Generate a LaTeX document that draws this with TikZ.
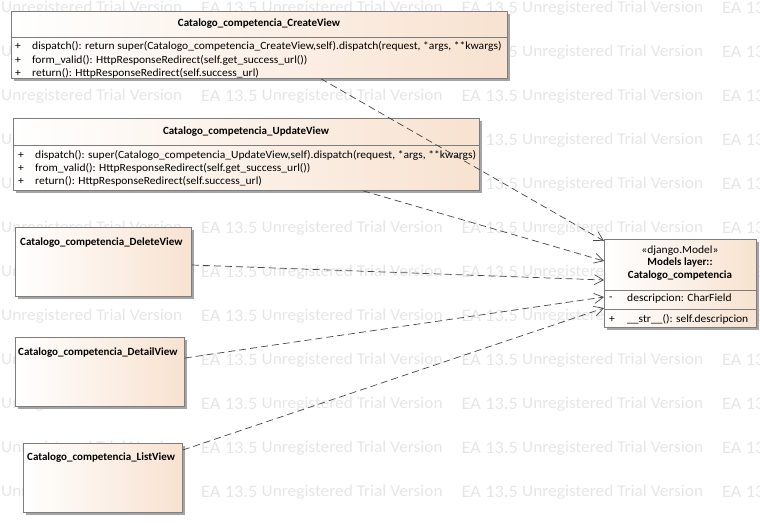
\documentclass[tikz,border=0pt]{standalone}
\usepackage{fontspec}
\setmainfont{Carlito}
\newfontfamily\regf[FakeStretch=1.05]{Carlito}
\usetikzlibrary{arrows.meta,shadows}
\definecolor{peach}{RGB}{248,226,208}
\definecolor{bordergray}{RGB}{125,125,125}
\definecolor{shadowgray}{RGB}{165,165,165}
\definecolor{wmgray}{RGB}{230,230,230}
\definecolor{linegray}{RGB}{70,70,70}
\begin{document}
\begin{tikzpicture}[x=1pt,y=-1pt,
  classbox/.style={draw=bordergray, line width=0.8pt, left color=white, right color=peach,
    anchor=north west, inner sep=0pt,
    drop shadow={shadow xshift=3pt, shadow yshift=-3pt, opacity=1, fill=shadowgray}},
  sepline/.style={draw=bordergray, line width=0.6pt},
  wm/.style={text=wmgray, anchor=west, inner sep=0pt, font=\regf\fontsize{17.5}{18}\selectfont},
  ttl/.style={inner sep=0pt, font=\fontsize{11}{12}\selectfont\bfseries},
  op/.style={inner sep=0pt, anchor=west, font=\regf\fontsize{11}{12}\selectfont},
  dep/.style={draw=linegray, line width=0.7pt, dash pattern=on 7pt off 4pt,
    -{Straight Barb[length=9pt,width=10pt,line width=0.7pt]}}]
\useasboundingbox (0,0) rectangle (760,522);
% watermark
\foreach \r in {0,...,11}{
  \foreach \k in {0,1,2}{
    \node[wm, font=\regf\fontsize{16.5}{18}\selectfont] (wmU\r-\k) at ({1+260.5*\k},{8+44*\r}) {Unregistered Trial Version};
    \node[wm] (wmE\r-\k) at ({201+260.5*\k},{8+44*\r}) {EA 13.5};
  }
}
% CreateView
\node[classbox, minimum width=496pt, minimum height=67pt] (create) at (11,11) {};
\draw[sepline] ([yshift=-26pt]create.north west) -- ([yshift=-26pt]create.north east);
\node[ttl] (createT) at (259,24) {Catalogo\_competencia\_CreateView};
\node[op] (c1p) at (15,46) {+};
\node[op] (c1) at (32,46) {dispatch(): return super(Catalogo\_competencia\_CreateView,self).dispatch(request, *args, **kwargs)};
\node[op] (c2p) at (15,60) {+};
\node[op] (c2) at (32,60) {form\_valid(): HttpResponseRedirect(self.get\_success\_url())};
\node[op] (c3p) at (15,73) {+};
\node[op] (c3) at (32,73) {return(): HttpResponseRedirect(self.success\_url)};
% UpdateView
\node[classbox, minimum width=466pt, minimum height=72pt] (update) at (13,118) {};
\draw[sepline] ([yshift=-27pt]update.north west) -- ([yshift=-27pt]update.north east);
\node[ttl] (updateT) at (246,132) {Catalogo\_competencia\_UpdateView};
\node[op] (u1p) at (18,155) {+};
\node[op] (u1) at (35,155) {dispatch(): super(Catalogo\_competencia\_UpdateView,self).dispatch(request, *args, **kwargs)};
\node[op] (u2p) at (18,168) {+};
\node[op] (u2) at (35,168) {from\_valid(): HttpResponseRedirect(self.get\_success\_url())};
\node[op] (u3p) at (18,181) {+};
\node[op] (u3) at (35,181) {return(): HttpResponseRedirect(self.success\_url)};
% DeleteView
\node[classbox, minimum width=176pt, minimum height=69pt] (delete) at (15,227) {};
\node[ttl, anchor=west] (deleteT) at (20,243) {Catalogo\_competencia\_DeleteView};
% DetailView
\node[classbox, minimum width=169pt, minimum height=69pt] (detail) at (15,337) {};
\node[ttl, anchor=west] (detailT) at (18,353) {Catalogo\_competencia\_DetailView};
% ListView
\node[classbox, minimum width=159pt, minimum height=69pt] (list) at (23,443) {};
\node[ttl, anchor=west] (listT) at (27,458) {Catalogo\_competencia\_ListView};
% Model
\node[classbox, minimum width=152pt, minimum height=88pt] (model) at (604,239) {};
\draw[sepline] ([yshift=-51pt]model.north west) -- ([yshift=-51pt]model.north east);
\draw[sepline] ([yshift=-70pt]model.north west) -- ([yshift=-70pt]model.north east);
\node[op, anchor=center] (mS) at (680,251) {«django.Model»};
\node[ttl] (mL) at (680,263) {Models layer::};
\node[ttl] (mN) at (680,276) {Catalogo\_competencia};
\node[op] (m1p) at (609,299) {-};
\node[op] (m1) at (627,299) {descripcion: CharField};
\node[op] (m2p) at (609,319) {+};
\node[op] (m2) at (627,319) {\_\_str\_\_(): self.descripcion};
% dependencies
\draw[dep] ([xshift=310pt]create.south west) -- ([yshift=-2pt]model.north west);
\draw[dep] ([xshift=350pt]update.south west) -- ([yshift=-22pt]model.north west);
\draw[dep] ([yshift=-38pt]delete.north east) -- ([yshift=-41pt]model.north west);
\draw[dep] ([yshift=-21pt]detail.north east) -- ([yshift=-58pt]model.north west);
\draw[dep] ([yshift=-7pt]list.north east) -- ([yshift=-69pt]model.north west);
\end{tikzpicture}
\end{document}
